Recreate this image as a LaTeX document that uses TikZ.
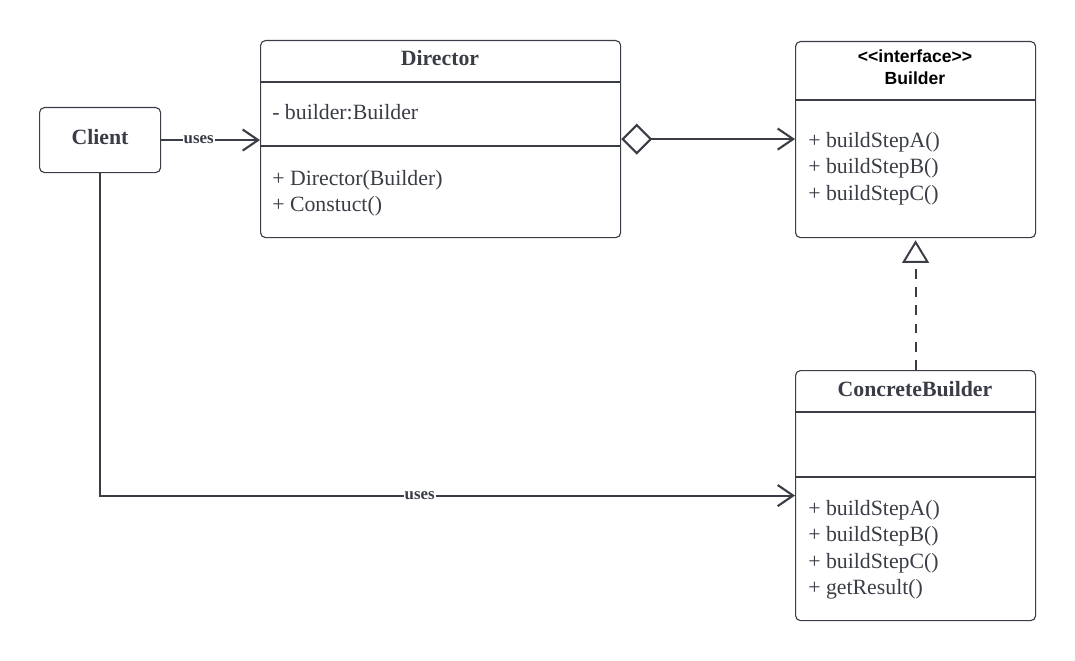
\documentclass[tikz,border=0pt]{standalone}
\usepackage{fontspec}
\setmainfont{Liberation Serif}
\newfontfamily\hdrfont{Liberation Sans}
\usetikzlibrary{arrows.meta,positioning,calc}
\definecolor{ink}{RGB}{58,61,69}

\begin{document}
\begin{tikzpicture}[
  x=0.025cm, y=-0.025cm,
  cls/.style={draw=ink, line width=0.8pt, rounded corners=3.5pt, anchor=north west, inner sep=0pt},
  txt/.style={text=ink, font=\fontsize{15.5}{18}\selectfont, inner sep=0pt, anchor=base west},
  ttl/.style={text=ink, font=\fontsize{15.5}{18}\selectfont\bfseries, inner sep=0pt, anchor=base},
  hdr/.style={text=black, font=\hdrfont\fontsize{12.5}{15}\selectfont\bfseries, inner sep=0pt, anchor=base},
  lbl/.style={text=ink, font=\fontsize{12}{14}\selectfont\bfseries, fill=white, inner sep=0.6pt},
  conn/.style={draw=ink, line width=1.5pt},
  >={Straight Barb[length=11pt, width=15pt]}
]
  \useasboundingbox (0,0) rectangle (1075,661);

  \node[cls, minimum width=3.025cm, minimum height=1.625cm] (client) at (39,107) {};
  \node[cls, minimum width=9cm, minimum height=4.925cm] (dir) at (260,40) {};
  \node[cls, minimum width=6cm, minimum height=4.9cm]   (bld) at (795,41) {};
  \node[cls, minimum width=6cm, minimum height=6.25cm]  (cb)  at (795,370) {};

  \draw[ink, line width=0.8pt] ($(dir.north west)+(0,42)$) -- ($(dir.north east)+(0,42)$);
  \draw[ink, line width=0.8pt] ($(dir.north west)+(0,106)$) -- ($(dir.north east)+(0,106)$);
  \draw[ink, line width=0.8pt] ($(bld.north west)+(0,59)$) -- ($(bld.north east)+(0,59)$);
  \draw[ink, line width=0.8pt] ($(cb.north west)+(0,42)$) -- ($(cb.north east)+(0,42)$);
  \draw[ink, line width=0.8pt] ($(cb.north west)+(0,107)$) -- ($(cb.north east)+(0,107)$);

  \node[ttl] (clientT) at (100,145) {Client};

  \node[ttl] (dirT)  at (440,66)  {Director};
  \node[txt] (dirA)  at (272,120) {- builder:Builder};
  \node[txt] (dirM1) at (272,185.5) {+ Director(Builder)};
  \node[txt] (dirM2) at (272,211.5) {+ Constuct()};

  \node[hdr] (bldS)  at (915,63)  {\textless\textless interface\textgreater\textgreater};
  \node[hdr] (bldT)  at (915,85)  {Builder};
  \node[txt] (bldM1) at (808,147.5) {+ buildStepA()};
  \node[txt] (bldM2) at (808,174) {+ buildStepB()};
  \node[txt] (bldM3) at (808,200.5) {+ buildStepC()};

  \node[ttl] (cbT)   at (915,396) {ConcreteBuilder};
  \node[txt] (cbM1)  at (808,515) {+ buildStepA()};
  \node[txt] (cbM2)  at (808,541.5) {+ buildStepB()};
  \node[txt] (cbM3)  at (808,568) {+ buildStepC()};
  \node[txt] (cbM4)  at (808,594) {+ getResult()};

  \draw[conn, ->] (client.east) -- node[lbl, pos=0.38]{uses} (client.east -| dir.west);
  \draw[conn, {Diamond[open, fill=white, length=22pt, width=22pt]}->] (dir.east) -- (dir.east -| bld.west);
  \draw[conn, ->] (client.south) |- node[lbl, pos=0.73]{uses} (cb.west);
  \draw[conn, line width=1.4pt, dash pattern=on 7pt off 6pt, -{Triangle[open, fill=white, length=16pt, width=19pt]},
        shorten >=1.5pt] (cb.north) -- (bld.south);
\end{tikzpicture}
\end{document}
